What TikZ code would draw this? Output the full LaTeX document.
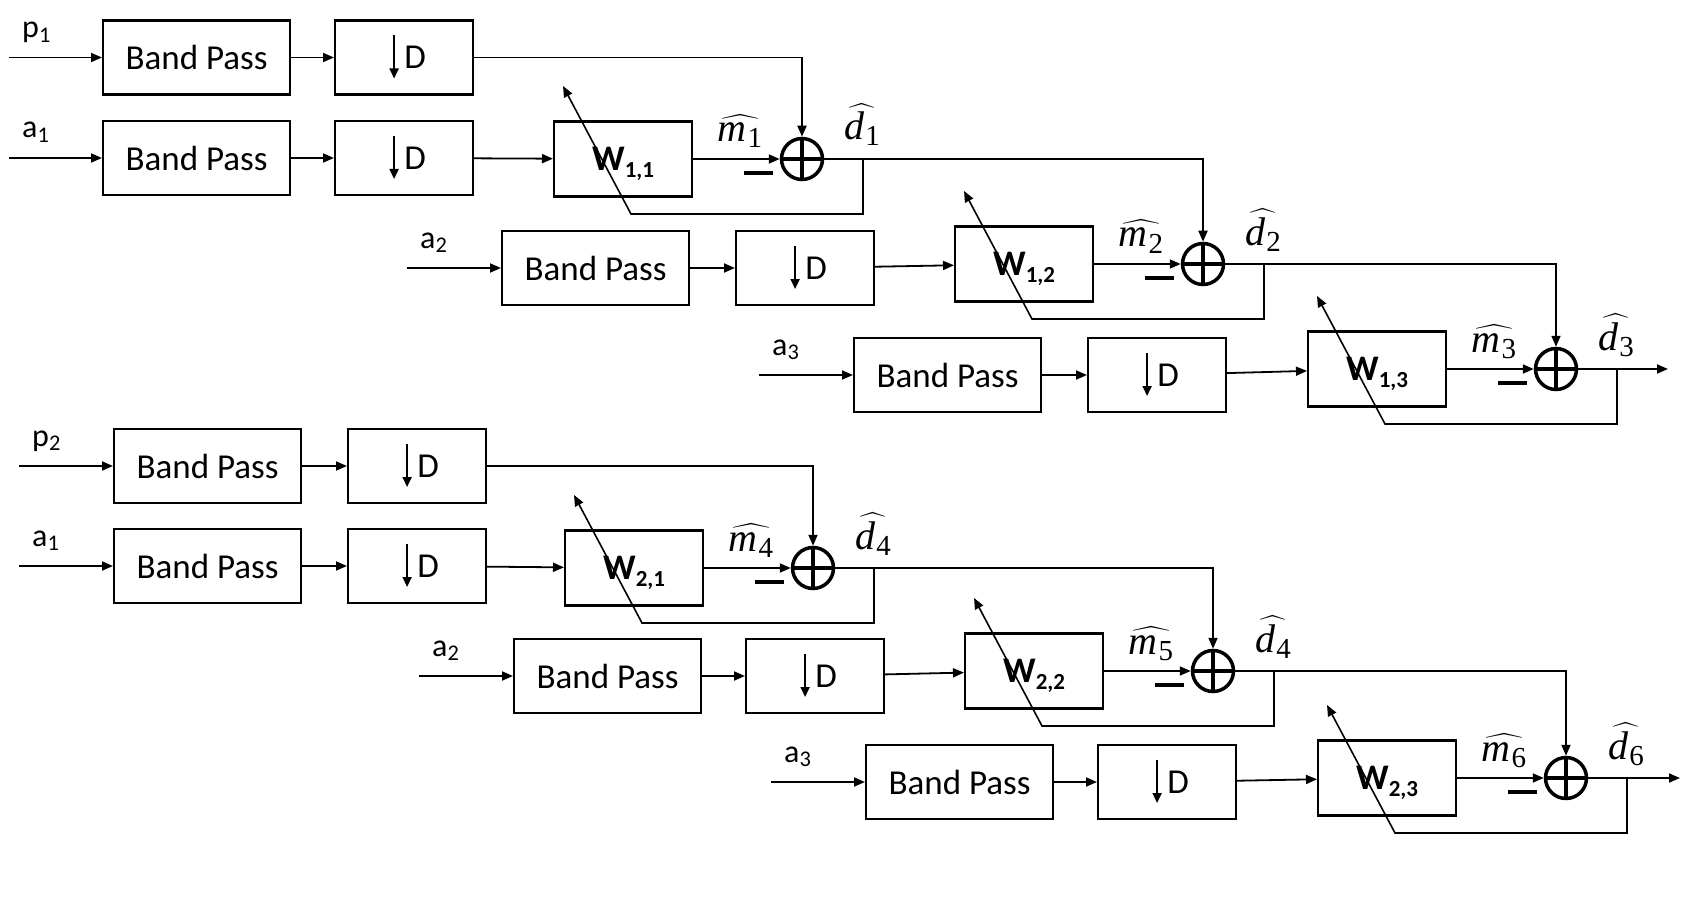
\RequirePackage{fix-cm}
\documentclass[tikz,border=0pt]{standalone}
\usepackage{exscale}
\usepackage{fontspec}
\setmainfont{Carlito}
\newfontfamily\mfont{Liberation Serif}
\usetikzlibrary{arrows.meta,calc}

\newcommand\wlabel[1]{{\bfseries\fontsize{36}{36}\selectfont W}\raisebox{-7pt}{\bfseries\fontsize{23}{23}\selectfont #1}}
\newcommand\hatlab[2]{$\widehat{\hbox{\mfont\itshape #1\kern1pt\raisebox{-6pt}{\fontsize{29}{29}\selectfont\upshape #2}}}$}

\tikzset{
  arr/.style={line width=1.8pt,-{Triangle[length=11pt,width=9pt]}},
  fb/.style={line width=1.6pt,-{Triangle[length=11pt,width=9pt]}},
  box/.style={draw,line width=2.2pt,inner sep=0pt,font=\fontsize{35}{35}\selectfont},
  bpbox/.style={box,minimum width=187pt,minimum height=74pt},
  dbox/.style={box,minimum width=138pt,minimum height=74pt,
    path picture={\draw[line width=1.8pt,-{Triangle[length=10pt,width=9pt]}]
      ([xshift=-10pt,yshift=22pt]path picture bounding box.center) -- ++(0,-43pt);}},
  wbox/.style={box,minimum width=138pt,minimum height=75pt,text depth=0pt},
  sum/.style={circle,draw,line width=3.5pt,minimum size=41pt,inner sep=0pt,
    path picture={\draw[line width=3.5pt]
      (path picture bounding box.north) -- (path picture bounding box.south)
      (path picture bounding box.west) -- (path picture bounding box.east);}},
  mlab/.style={inner sep=0pt,font=\fontsize{40}{40}\selectfont},
  lab/.style={inner sep=0pt,font=\fontsize{32}{32}\selectfont},
  minus/.style={fill,minimum width=29pt,minimum height=4.5pt,inner sep=0pt},
}

% #1 id, #2 BP left, #3 D left, #4 axis y, #5 input start x, #6 label
\newcommand\myrow[6]{%
  \node[bpbox,anchor=west] (B#1) at (#2,#4) {Band Pass};
  \node[dbox,anchor=west] (D#1) at (#3,#4) {\hspace{22pt}D};
  \coordinate (I#1) at (#5,#4);
  \node[lab,anchor=base west] (L#1) at (#5+13,#4-20) {#6};
  \draw[arr] (I#1) -- (B#1);
  \draw[arr] (B#1) -- (D#1);
}

% #1 id, #2 W left, #3 center y, #4 W subscript, #5 m index, #6 d index
\newcommand\mystage[6]{%
  \node[wbox,anchor=west] (W#1) at (#2,#3) {\wlabel{#4}};
  \node[sum] (S#1) at (#2+249,#3) {};
  \node[mlab,anchor=base] (M#1) at (#2+249-62,#3-17) {\hatlab{m}{#5}};
  \node[mlab,anchor=base] (E#1) at (#2+249+60,#3-19) {\hatlab{d}{#6}};
  \node[minus] (N#1) at (#2+249-44,#3+14) {};
  \coordinate (F#1) at (#2+310,#3);
  \coordinate (G#1) at (#2+78,#3+55);
  \coordinate (T#1) at (#2+10,#3-73);
  \draw[arr] (W#1) -- (S#1);
  \draw[fb] (F#1) |- (G#1) -- (T#1);
}

\begin{document}
\begin{tikzpicture}[x=1pt,y=-1pt]
\useasboundingbox (0,0) rectangle (1708,904);

% upper group
\myrow{1}{102}{334}{57.5}{9}{p\textsubscript{1}}
\myrow{2}{102}{334}{158}{9}{a\textsubscript{1}}
\myrow{3}{501}{735}{268}{407}{a\textsubscript{2}}
\myrow{4}{853}{1087}{375}{759}{a\textsubscript{3}}
\mystage{11}{553}{159}{1,1}{1}{1}
\mystage{12}{954}{264}{1,2}{2}{2}
\mystage{13}{1307}{369}{1,3}{3}{3}
\draw[arr] (D2) -- (W11);
\draw[arr] (D3) -- (W12);
\draw[arr] (D4) -- (W13);
\draw[arr] (D1.east) -| (S11.north);
\draw[arr] (S11.east) -| (S12.north);
\draw[arr] (S12.east) -| (S13.north);
\coordinate (O1) at (1668,369);
\draw[arr] (S13.east) -- (O1);

% lower group
\myrow{5}{113}{347}{466}{19}{p\textsubscript{2}}
\myrow{6}{113}{347}{566}{19}{a\textsubscript{1}}
\myrow{7}{513}{745}{676}{419}{a\textsubscript{2}}
\myrow{8}{865}{1097}{782}{771}{a\textsubscript{3}}
\mystage{21}{564}{568}{2,1}{4}{4}
\mystage{22}{964}{671}{2,2}{5}{4}
\mystage{23}{1317}{778}{2,3}{6}{6}
\draw[arr] (D6) -- (W21);
\draw[arr] (D7) -- (W22);
\draw[arr] (D8) -- (W23);
\draw[arr] (D5.east) -| (S21.north);
\draw[arr] (S21.east) -| (S22.north);
\draw[arr] (S22.east) -| (S23.north);
\coordinate (O2) at (1680,778);
\draw[arr] (S23.east) -- (O2);
\end{tikzpicture}
\end{document}
